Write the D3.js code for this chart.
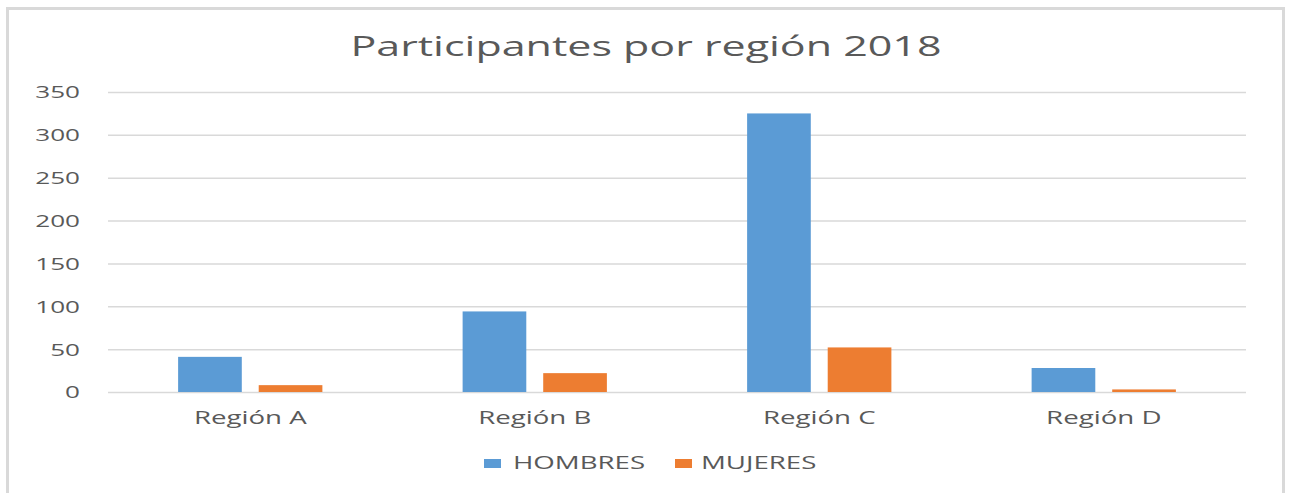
<!DOCTYPE html>
<html>
<head>
<meta charset="utf-8">
<script src="https://cdn.jsdelivr.net/npm/d3@7"></script>
<style>
  body { margin: 0; background: #fff; }
  text { font-family: "Open Sans", sans-serif; fill: #595959; }
</style>
</head>
<body>
<div id="chart"></div>
<script>
const categories = ['Región A', 'Región B', 'Región C', 'Región D'];
const series = ['HOMBRES', 'MUJERES'];
const hombres = [41, 94, 325, 28];
const mujeres = [8, 22, 52, 3];
const yTicks = [0, 50, 100, 150, 200, 250, 300, 350];
const colors = ['#5B9BD5', '#ED7D31'];

const width = 1289;
const height = 493;
const margin = {top: 92, right: 43, bottom: 101, left: 108};

const svg = d3.select('#chart').append('svg')
  .attr('width', width)
  .attr('height', height);

// chart frame
svg.append('rect')
  .attr('x', 7.5).attr('y', 8.5)
  .attr('width', 1276).attr('height', 500)
  .attr('fill', '#fff')
  .attr('stroke', '#d9d9d9')
  .attr('stroke-width', 3);

const title = svg.append('text')
  .attr('x', 646).attr('y', 56)
  .attr('text-anchor', 'middle')
  .attr('font-size', 28)
  .text('Participantes por región 2018');

// the picture is stretched sideways, so widen all text by the same factor
const stretch = 591 / title.node().getComputedTextLength();
const widen = sel => sel.each(function() {
  const w = this.getComputedTextLength();
  d3.select(this).attr('textLength', w * stretch).attr('lengthAdjust', 'spacingAndGlyphs');
});
widen(title);

const plotW = width - margin.left - margin.right;
const plotH = height - margin.top - margin.bottom;

const g = svg.append('g').attr('transform', `translate(${margin.left},${margin.top})`);

const y = d3.scaleLinear().domain([0, 350]).range([plotH, 0]);
const x0 = d3.scaleBand().domain(categories).range([0, plotW]);
const x1 = d3.scaleBand().domain(series).range([0, x0.bandwidth()])
  .paddingInner(0.21).paddingOuter(0.87);

const yAxis = g.append('g')
  .call(d3.axisLeft(y).tickValues(yTicks).tickSize(-plotW).tickPadding(28));
yAxis.select('.domain').remove();
yAxis.selectAll('line').attr('stroke', '#d9d9d9').attr('stroke-width', 1.5);
yAxis.selectAll('text').attr('font-size', 17).attr('fill', '#595959').attr('dy', '0.35em')
  .call(widen);

const xAxis = g.append('g')
  .attr('transform', `translate(0,${plotH})`)
  .call(d3.axisBottom(x0).tickSize(0).tickPadding(19));
xAxis.select('.domain').remove();
xAxis.selectAll('text').attr('font-size', 18).attr('fill', '#595959')
  .call(widen);

const rows = categories.map((c, i) => ({cat: c, vals: [hombres[i], mujeres[i]]}));

const groups = g.selectAll('.cat')
  .data(rows)
  .enter()
  .append('g')
  .attr('transform', d => `translate(${x0(d.cat)},0)`);

groups.selectAll('rect')
  .data(d => d.vals.map((v, j) => ({s: series[j], v: v, j: j})))
  .enter()
  .append('rect')
  .attr('x', d => x1(d.s))
  .attr('width', x1.bandwidth())
  .attr('y', d => y(d.v))
  .attr('height', d => plotH - y(d.v))
  .attr('fill', d => colors[d.j]);

// legend
const legend = svg.append('g').attr('transform', 'translate(484,459)');
const hItem = legend.append('g');
hItem.append('rect').attr('width', 17).attr('height', 9).attr('fill', colors[0]);
hItem.append('text').attr('x', 29).attr('y', 10).attr('font-size', 18).text(series[0]).call(widen);
const mItem = legend.append('g').attr('transform', 'translate(191,0)');
mItem.append('rect').attr('width', 17).attr('height', 9).attr('fill', colors[1]);
mItem.append('text').attr('x', 26).attr('y', 10).attr('font-size', 18).text(series[1]).call(widen);
</script>
</body>
</html>
